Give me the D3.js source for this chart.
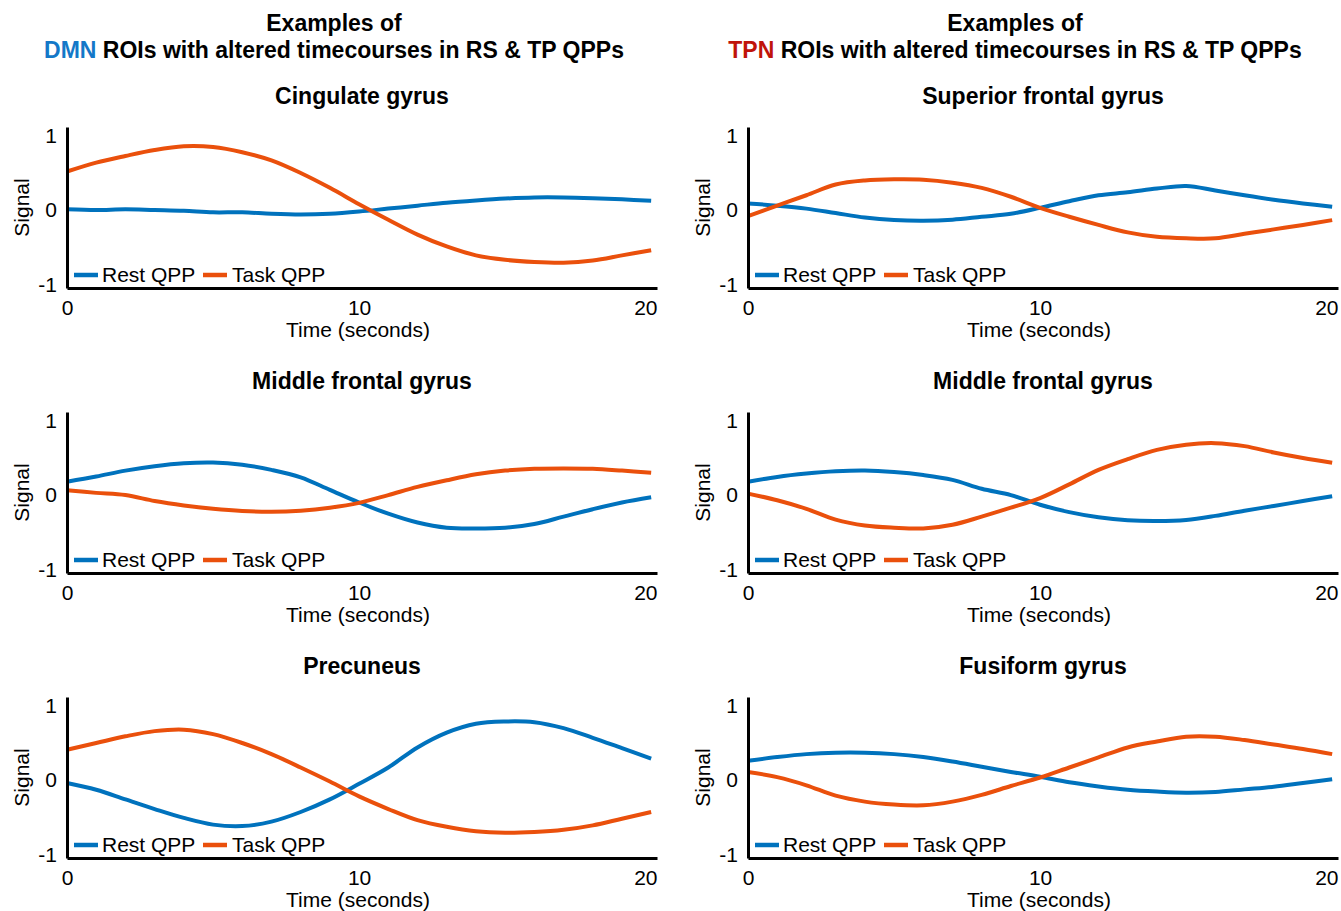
<!DOCTYPE html>
<html>
<head>
<meta charset="utf-8">
<script src="https://cdn.jsdelivr.net/npm/d3@7"></script>
<style>
body { margin: 0; background: #fff; }
text { font-family: "Liberation Sans", Arial, sans-serif; fill: #000; }
</style>
</head>
<body>
<svg id="chart" width="1341" height="911"></svg>
<script>
// time axis, one sample per second
var time = d3.range(0, 21);
var xTicks = [0, 10, 20];
var yTicks = [-1, 0, 1];
var seriesNames = ["Rest QPP", "Task QPP"];
var groupNames = ["DMN", "TPN"];
var titleRest = " ROIs with altered timecourses in RS & TP QPPs";
var panelTitles = [
	["Cingulate gyrus", "Middle frontal gyrus", "Precuneus"],
	["Superior frontal gyrus", "Middle frontal gyrus", "Fusiform gyrus"]
];

// DMN column
var dmnCingulateRest = [0.01, 0.0, 0.01, 0.0, -0.01, -0.03, -0.03, -0.05, -0.06, -0.05, -0.02, 0.02, 0.06, 0.10, 0.13, 0.155, 0.17, 0.17, 0.16, 0.145, 0.125];
var dmnCingulateTask = [0.52, 0.64, 0.73, 0.81, 0.86, 0.85, 0.78, 0.67, 0.50, 0.30, 0.08, -0.13, -0.33, -0.49, -0.61, -0.67, -0.70, -0.71, -0.68, -0.61, -0.54];
var dmnMiddleRest = [0.18, 0.25, 0.33, 0.39, 0.43, 0.44, 0.41, 0.34, 0.24, 0.07, -0.10, -0.25, -0.37, -0.44, -0.45, -0.44, -0.39, -0.29, -0.19, -0.10, -0.03];
var dmnMiddleTask = [0.065, 0.03, 0.0, -0.08, -0.14, -0.185, -0.215, -0.225, -0.21, -0.17, -0.105, 0.0, 0.11, 0.20, 0.28, 0.33, 0.355, 0.36, 0.355, 0.33, 0.30];
var dmnPrecuneusRest = [-0.04, -0.13, -0.26, -0.39, -0.51, -0.60, -0.62, -0.56, -0.43, -0.26, -0.05, 0.17, 0.44, 0.64, 0.76, 0.79, 0.78, 0.70, 0.57, 0.43, 0.29];
var dmnPrecuneusTask = [0.41, 0.50, 0.59, 0.66, 0.68, 0.62, 0.50, 0.35, 0.17, -0.02, -0.22, -0.39, -0.54, -0.63, -0.69, -0.71, -0.70, -0.67, -0.61, -0.52, -0.43];

// TPN column
var tpnSuperiorRest = [0.09, 0.06, 0.02, -0.04, -0.10, -0.135, -0.145, -0.13, -0.09, -0.05, 0.03, 0.12, 0.20, 0.24, 0.29, 0.325, 0.265, 0.20, 0.14, 0.09, 0.045];
var tpnSuperiorTask = [-0.08, 0.06, 0.20, 0.345, 0.40, 0.415, 0.41, 0.37, 0.30, 0.18, 0.03, -0.09, -0.20, -0.30, -0.36, -0.38, -0.38, -0.32, -0.26, -0.20, -0.135];
var tpnMiddleRest = [0.18, 0.245, 0.29, 0.32, 0.33, 0.31, 0.27, 0.205, 0.085, 0.0, -0.13, -0.23, -0.30, -0.34, -0.35, -0.335, -0.28, -0.21, -0.147, -0.08, -0.015];
var tpnMiddleTask = [0.02, -0.07, -0.185, -0.33, -0.41, -0.44, -0.45, -0.40, -0.29, -0.17, -0.04, 0.145, 0.34, 0.485, 0.61, 0.68, 0.70, 0.66, 0.575, 0.50, 0.435];
var tpnFusiformRest = [0.26, 0.31, 0.35, 0.37, 0.37, 0.35, 0.31, 0.25, 0.18, 0.11, 0.045, -0.03, -0.085, -0.13, -0.155, -0.17, -0.16, -0.125, -0.09, -0.04, 0.01];
var tpnFusiformTask = [0.11, 0.04, -0.07, -0.21, -0.29, -0.33, -0.34, -0.29, -0.20, -0.08, 0.035, 0.17, 0.305, 0.44, 0.52, 0.585, 0.585, 0.54, 0.48, 0.42, 0.35];

var panels = [
	[[dmnCingulateRest, dmnCingulateTask], [dmnMiddleRest, dmnMiddleTask], [dmnPrecuneusRest, dmnPrecuneusTask]],
	[[tpnSuperiorRest, tpnSuperiorTask], [tpnMiddleRest, tpnMiddleTask], [tpnFusiformRest, tpnFusiformTask]]
];

var colors = ["#0072BD", "#EA500C"];
var groupColors = ["#1478C8", "#C0140A"];

var colX = [67, 748],
	rowY = [127, 412, 697],
	plotW = 590,
	plotH = 161;

var x = d3.scaleLinear().domain([0, 20.2]).range([0, plotW]);
var y = d3.scaleLinear().domain([-1.05, 1.12]).range([plotH, 0]);

var line = d3.line()
	.x(function(d, i) { return x(time[i]); })
	.y(function(d) { return y(d); })
	.curve(d3.curveCatmullRom);

var svg = d3.select("#chart");

colX.forEach(function(cx, c) {
	// column header
	svg.append("text")
		.attr("x", cx + 267)
		.attr("y", 31)
		.attr("text-anchor", "middle")
		.attr("font-size", 23)
		.attr("font-weight", "bold")
		.text("Examples of");
	var head2 = svg.append("text")
		.attr("x", cx + 267)
		.attr("y", 58)
		.attr("text-anchor", "middle")
		.attr("font-size", 23)
		.attr("font-weight", "bold");
	head2.append("tspan").style("fill", groupColors[c]).text(groupNames[c]);
	head2.append("tspan").text(titleRest);

	rowY.forEach(function(ry, r) {
		var g = svg.append("g").attr("transform", "translate(" + cx + "," + ry + ")");

		g.append("text")
			.attr("x", plotW / 2)
			.attr("y", -23)
			.attr("text-anchor", "middle")
			.attr("font-size", 23)
			.attr("font-weight", "bold")
			.text(panelTitles[c][r]);

		panels[c][r].forEach(function(vals, s) {
			g.append("path")
				.datum(vals)
				.attr("d", line)
				.attr("fill", "none")
				.attr("stroke", colors[s])
				.attr("stroke-width", 4)
				.attr("stroke-linejoin", "round");
		});

		var xAxis = g.append("g")
			.attr("transform", "translate(0," + plotH + ")")
			.call(d3.axisBottom(x).tickValues(xTicks).tickSize(0).tickSizeOuter(0).tickPadding(12)
				.tickFormat(function(d) { return String(d); }));
		xAxis.selectAll("text")
			.attr("font-size", 21)
			.attr("font-family", null)
			.filter(function(d) { return d === 20; })
			.attr("text-anchor", "end")
			.attr("x", x(20.2) - x(20));

		var yAxis = g.append("g")
			.call(d3.axisLeft(y).tickValues(yTicks).tickSize(0).tickSizeOuter(0).tickPadding(10)
				.tickFormat(function(d) { return String(d); }));
		yAxis.selectAll("text").attr("font-size", 21).attr("font-family", null);

		g.selectAll(".domain").attr("stroke", "#000").attr("stroke-width", 3);

		g.append("text")
			.attr("x", plotW / 2 - 4)
			.attr("y", plotH + 49)
			.attr("text-anchor", "middle")
			.attr("font-size", 21)
			.text("Time (seconds)");

		g.append("text")
			.attr("transform", "translate(-46," + (plotH / 2) + ") rotate(-90)")
			.attr("text-anchor", "middle")
			.attr("dominant-baseline", "central")
			.attr("font-size", 21)
			.text("Signal");

		// legend
		var leg = g.append("g").attr("transform", "translate(0," + (plotH - 13) + ")");
		var legX = [[7, 35], [136, 165]];
		seriesNames.forEach(function(name, s) {
			leg.append("line")
				.attr("x1", legX[s][0]).attr("x2", legX[s][0] + 24)
				.attr("y1", 0).attr("y2", 0)
				.attr("stroke", colors[s])
				.attr("stroke-width", 4.5);
			leg.append("text")
				.attr("x", legX[s][1])
				.attr("y", 7)
				.attr("font-size", 21)
				.text(name);
		});
	});
});
</script>
</body>
</html>
